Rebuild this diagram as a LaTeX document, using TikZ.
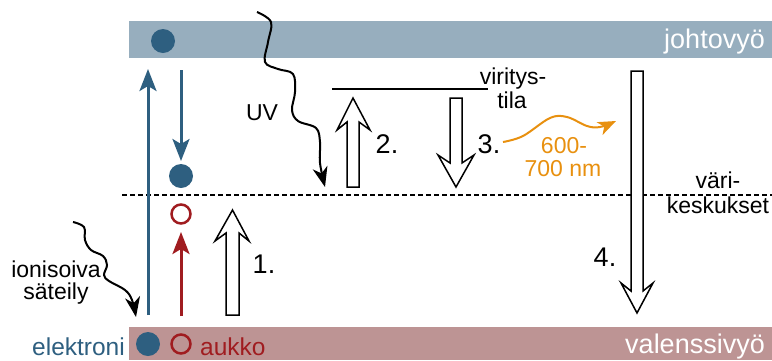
\documentclass[tikz,border=0pt]{standalone}
\usepackage{fontspec}
\setmainfont{Liberation Sans}
\usetikzlibrary{arrows.meta}
\definecolor{bandtop}{HTML}{97AEBE}
\definecolor{bandbot}{HTML}{BD9494}
\definecolor{eblue}{HTML}{2E5F80}
\definecolor{hred}{HTML}{A01C20}
\definecolor{orng}{HTML}{E8900F}
\begin{document}
\begin{tikzpicture}[x=1pt,y=-1pt,
  ecirc/.style={circle,fill=eblue,minimum size=24pt,inner sep=0pt},
  hcirc/.style={circle,draw=hred,line width=2.5pt,minimum size=19pt,inner sep=0pt},
  barrow/.style={line width=3pt,-{Stealth[length=22pt,width=17pt,inset=5pt]}},
  blockarrow/.style={draw=black,fill=white,line width=1.5pt,line join=miter},
  snake/.style={line width=2pt,-{Stealth[length=20pt,width=15pt,inset=6pt]}},
  lbl/.style={font=\fontsize{23}{26}\selectfont,inner sep=0pt},
  numlbl/.style={font=\fontsize{27}{30}\selectfont,inner sep=0pt},
  bandlbl/.style={font=\fontsize{27}{30}\selectfont,text=white,inner sep=0pt,anchor=base east},
]
\useasboundingbox (0,0) rectangle (772,360);
% bands
\fill[bandtop] (129,21) rectangle (772,58);
\fill[bandbot] (129,327) rectangle (772,360);
\node[bandlbl] (jv) at (765,48) {johtovyö};
\node[bandlbl] (vv) at (765,353) {valenssivyö};
% dashed level
\coordinate (dl) at (122,195);
\coordinate (dr) at (772,195);
\draw[line width=1.5pt,dash pattern=on 5pt off 3pt] (dl) -- (dr);
% excited level
\coordinate (xl) at (332,89);
\coordinate (xr) at (488,89);
\draw[line width=2pt] (xl) -- (xr);
% circles
\node[ecirc] (etop) at (163,41) {};
\node[ecirc] (emid) at (181,176) {};
\node[hcirc] (hmid) at (181,214) {};
\node[ecirc] (ebot) at (148,344) {};
\node[hcirc] (hbot) at (181,344) {};
% blue / red arrows
\coordinate (b1s) at (148,315);
\coordinate (b1e) at (148,69);
\coordinate (b2s) at (181,70);
\coordinate (b2e) at (181,161);
\coordinate (r1s) at (181,316);
\coordinate (r1e) at (181,232);
\draw[barrow,eblue] (b1s) -- (b1e);
\draw[barrow,eblue] (b2s) -- (b2e);
\draw[barrow,hred] (r1s) -- (r1e);
% block arrows
\draw[blockarrow] (226,315) -- (226,233) -- (215,241) -- (232.5,210) -- (249,241) -- (239,233) -- (239,315) -- cycle;
\draw[blockarrow] (347,187) -- (347,122) -- (337,130) -- (353,98) -- (370,130) -- (359,122) -- (359,187) -- cycle;
\draw[blockarrow] (450,98) -- (450,163) -- (438,155) -- (456,187) -- (474,155) -- (462,163) -- (462,98) -- cycle;
\draw[blockarrow] (631,71) -- (631,291) -- (621,283) -- (637,313) -- (653,283) -- (643,291) -- (643,71) -- cycle;
% snakes
\draw[snake] plot[smooth,tension=0.6] coordinates {(257,12) (271,22) (268,42) (265,62) (278,69) (293,74) (295,92) (292,110) (298,121) (316,128) (320,142) (320,163) (325,187)};
\draw[snake] plot[smooth,tension=0.6] coordinates {(73,222) (84,227) (85,240) (91,250) (103,256) (107,265) (104,275) (109,281) (125,290) (132,300) (136,317)};
\draw[line width=2pt,orng,-{Stealth[length=18pt,width=14pt,inset=5pt]}] plot[smooth,tension=0.6] coordinates {(503,142) (523,136) (550,118) (567,117) (587,126) (600,127) (616,121)};
% labels
\node[lbl,text=eblue,anchor=base east] (tel) at (125,355) {\fontsize{24.5}{27}\selectfont elektroni};
\node[lbl,text=hred,anchor=base west] (tau) at (200,355) {\fontsize{24.5}{27}\selectfont aukko};
\node[lbl,anchor=base] (tuv) at (262,120) {UV};
\node[lbl,anchor=base] (tio1) at (56,277) {ionisoiva};
\node[lbl,anchor=base] (tio2) at (56,299) {säteily};
\node[lbl,anchor=base] (tvi1) at (513,84) {viritys-};
\node[lbl,anchor=base] (tvi2) at (512,108) {tila};
\node[lbl,anchor=base,text=orng] (to1) at (564,153) {600-};
\node[lbl,anchor=base,text=orng] (to2) at (563,176) {700 nm};
\node[lbl,anchor=base] (tva1) at (718,188) {väri-};
\node[lbl,anchor=base] (tva2) at (718,213) {keskukset};
\node[numlbl,anchor=base] (n1) at (264,273) {1.};
\node[numlbl,anchor=base] (n2) at (387,153) {2.};
\node[numlbl,anchor=base] (n3) at (489,153) {3.};
\node[numlbl,anchor=base] (n4) at (605,266) {4.};
\end{tikzpicture}
\end{document}
